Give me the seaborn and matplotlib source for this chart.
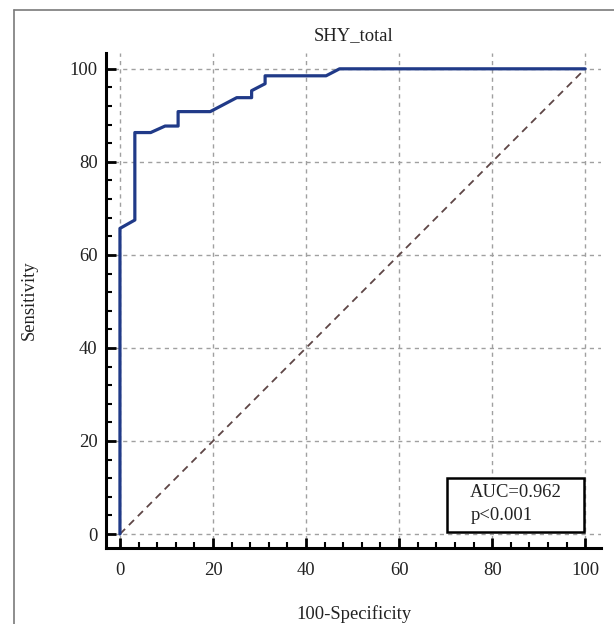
import matplotlib
matplotlib.use("Agg")
import matplotlib.pyplot as plt
import seaborn as sns
import pandas as pd
from matplotlib.patches import Rectangle
from matplotlib.lines import Line2D
from matplotlib.ticker import MultipleLocator

# ---- data ----
fpr = [0, 0, 3.2, 3.2, 6.6, 9.7, 12.5, 12.5, 19.4, 25.1, 28.3, 28.3, 31.2, 31.2, 44.3, 47.2, 100]
tpr = [0, 65.7, 67.5, 86.3, 86.3, 87.7, 87.7, 90.8, 90.8, 93.8, 93.8, 95.3, 96.8, 98.5, 98.5, 100, 100]
ref_x = [0, 100]
ref_y = [0, 100]
ticks = [0, 20, 40, 60, 80, 100]
title = "SHY_total"
xlabel = "100-Specificity"
ylabel = "Sensitivity"
auc_text = "AUC=0.962"
p_text = "p<0.001"

sns.set_style("ticks")
plt.rcParams['font.family'] = ['Liberation Serif', 'DejaVu Serif']

FS = 13.4
W, H = 614, 624
fig = plt.figure(figsize=(W / 100, H / 100), dpi=100)
ax = fig.add_axes([106 / W, 1 - 548 / H, 495 / W, 495 / H])

roc = pd.DataFrame({"fpr": fpr, "tpr": tpr})
diag = pd.DataFrame({"x": ref_x, "y": ref_y})

sns.lineplot(data=diag, x="x", y="y", ax=ax, color="#5e4646", lw=1.3,
             linestyle=(0, (4, 3)), sort=False, estimator=None, errorbar=None, zorder=2)
sns.lineplot(data=roc, x="fpr", y="tpr", ax=ax, color="#203a88", lw=2.3,
             sort=False, estimator=None, errorbar=None, zorder=3)

ax.set_xlim(-3, 103.4)
ax.set_ylim(-3, 103.4)
ax.set_xticks(ticks)
ax.set_yticks(ticks)
ax.set_xticklabels([str(t) for t in ticks])
ax.set_yticklabels([str(t) for t in ticks])
ax.xaxis.set_minor_locator(MultipleLocator(4))
ax.yaxis.set_minor_locator(MultipleLocator(4))
ax.tick_params(which="major", direction="in", length=7, width=2, colors="black",
               labelsize=FS, labelcolor="#222222")
ax.tick_params(axis="x", which="major", pad=10)
ax.tick_params(axis="y", which="major", pad=6)
ax.tick_params(which="minor", direction="in", length=4, width=1.5, colors="black")

for s in ["top", "right"]:
    ax.spines[s].set_visible(False)
for s in ["left", "bottom"]:
    ax.spines[s].set_linewidth(2.2)
    ax.spines[s].set_color("black")

ax.grid(True, which="major", color="#a0a0a0", linestyle=(0, (3, 3)), lw=1.0)
ax.set_axisbelow(True)

ax.set_xlabel(xlabel, fontsize=FS, color="#222222")
ax.set_ylabel(ylabel, fontsize=FS, color="#222222")
ax.xaxis.set_label_coords(0.5, -0.115)
ax.yaxis.set_label_coords(-0.137, 0.5)
ax.text(0.5, 1.036, title, transform=ax.transAxes, ha="center", va="center",
        fontsize=FS, color="#222222")

# AUC box
box = Rectangle((70.3, 0.4), 29.5, 11.6, fill=True, facecolor="white",
                edgecolor="black", lw=1.8, zorder=4)
ax.add_patch(box)
ax.text(75.3, 9.0, auc_text, fontsize=FS, va="center", ha="left", color="#222222", zorder=5)
ax.text(75.3, 3.9, p_text, fontsize=FS, va="center", ha="left", color="#222222", zorder=5)

# outer frame
fig.add_artist(Line2D([14 / W, 14 / W], [0, 1 - 10 / H], color="#7a7a7a", lw=1.2,
                      transform=fig.transFigure))
fig.add_artist(Line2D([14 / W, 1], [1 - 10 / H, 1 - 10 / H], color="#7a7a7a", lw=1.2,
                      transform=fig.transFigure))

fig.savefig("out.png", dpi=100)
